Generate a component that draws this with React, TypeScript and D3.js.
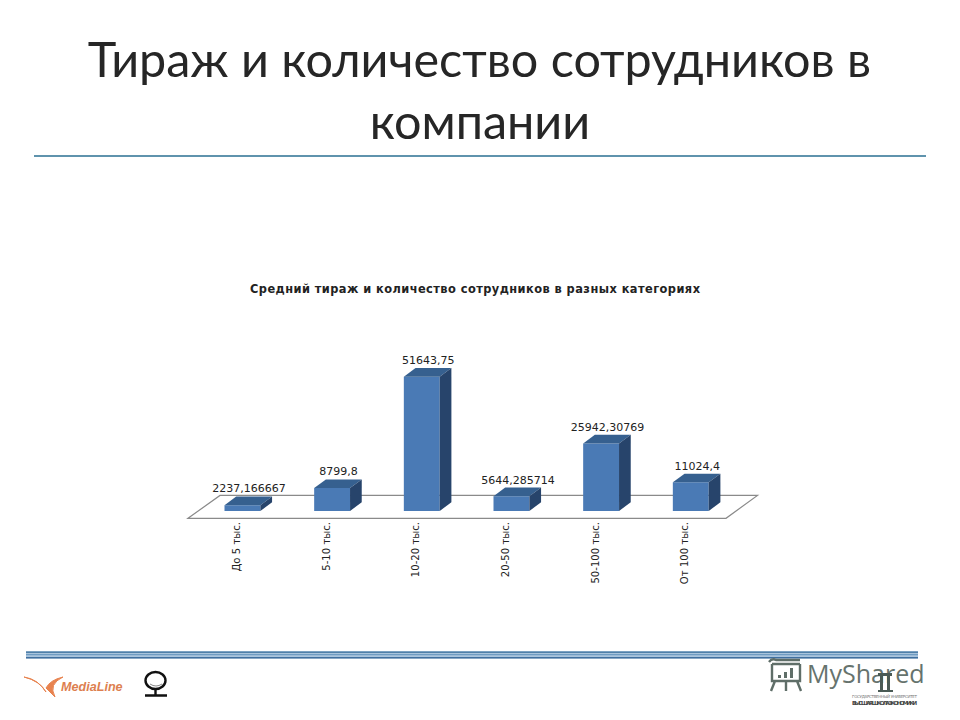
import React from "react";
import * as d3 from "d3";

const categories = ["До 5 тыс.", "5-10 тыс.", "10-20 тыс.", "20-50 тыс.", "50-100 тыс.", "От 100 тыс."];
const values = [2237.166667, 8799.8, 51643.75, 5644.285714, 25942.30769, 11024.4];
const valueLabels = ["2237,166667", "8799,8", "51643,75", "5644,285714", "25942,30769", "11024,4"];

const DX = 11.7;
const DY = 8.7;
const BASE = 511;

const x = d3.scaleBand<string>().domain(categories).range([197.6, 735.6]).paddingInner(0.6).paddingOuter(0.3);
const y = d3.scaleLinear().domain([0, 51643.75]).range([BASE, 376.7]);

const SANS = "'DejaVu Sans', Verdana, sans-serif";

function poly(pts: [number, number][]) {
  return (d3.line()(pts) ?? "") + "Z";
}

export default function App() {
  return (
    <svg width={960} height={720} viewBox="0 0 960 720" style={{ position: "fixed", left: 0, top: 0, background: "#fff" }}>
      <text x={479.5} y={77} textAnchor="middle" fontFamily="Lato, Carlito, sans-serif" fontSize={48.5} fill="#262626">Тираж и количество сотрудников в</text>
      <text x={480} y={139} textAnchor="middle" fontFamily="Lato, Carlito, sans-serif" fontSize={48.5} fill="#262626">компании</text>
      <line x1={34} x2={926} y1={156} y2={156} stroke="#5f93ad" strokeWidth={2} />

      <text x={475} y={293} textAnchor="middle" fontFamily={SANS} fontWeight={700} fontSize={11.4} textLength={450} lengthAdjust="spacing" fill="#222">Средний тираж и количество сотрудников в разных категориях</text>

      <path d={poly([[188, 518.3], [220, 495.4], [757.5, 495.4], [726, 518.3]])} fill="#fff" stroke="#8a8a8a" strokeWidth={1.2} />

      {categories.map((c, i) => {
        const x0 = x(c)!;
        const x1 = x0 + x.bandwidth();
        const top = y(values[i]);
        return (
          <g key={c}>
            <path d={poly([[x0, top], [x1, top], [x1, BASE], [x0, BASE]])} fill="#4a7ab5" />
            <path d={poly([[x0, top], [x0 + DX, top - DY], [x1 + DX, top - DY], [x1, top]])} fill="#36608f" />
            <path d={poly([[x1, top], [x1 + DX, top - DY], [x1 + DX, BASE - DY], [x1, BASE]])} fill="#27446b" />
            <text x={(x0 + x1) / 2 + 6.5} y={top - DY - 4} textAnchor="middle" fontFamily={SANS} fontSize={11} fill="#222">{valueLabels[i]}</text>
            <text transform={`translate(${(x0 + x1) / 2 - 2.5},522) rotate(-90)`} textAnchor="end" fontFamily={SANS} fontSize={10.1} fill="#222">{c}</text>
          </g>
        );
      })}

      <rect x={26} y={651} width={892} height={7} fill="#a9c4dc" />
      <rect x={26} y={651.5} width={892} height={1.5} fill="#4f7fa8" />
      <rect x={26} y={654} width={892} height={1.2} fill="#6f9cc2" />
      <rect x={26} y={657} width={892} height={1.6} fill="#3f6f9f" />

      <path d="M24 677 Q38 679 46 692 Q40 681 24 677Z M63 677 Q50 680 46 688 L55 697 Q48 684 63 677Z" fill="#e8834f" stroke="#e8834f" strokeWidth={1} />
      <text x={61} y={691} fontFamily="'Liberation Sans', Arial, sans-serif" fontWeight={700} fontStyle="italic" fontSize={12.6} fill="#dd7f50">MediaLine</text>

      <ellipse cx={155.5} cy={680.5} rx={10} ry={8.5} fill="none" stroke="#111" strokeWidth={2.4} />
      <path d="M155.5 689V695M145 695.5H167" stroke="#111" strokeWidth={2.4} fill="none" />
      <path d="M150 684Q156 688 162 684" stroke="#888" strokeWidth={1} fill="none" />

      <g fill="none" stroke="#5f6e68" strokeWidth={2.4}>
        <path d="M772 664H800M772 664V681H800V664M775 681L771 691M786 681V691M797 681L801 691" />
        <path d="M769 662Q772 658 776 660H800" />
      </g>
      <g fill="#5f6e68">
        <rect x={778} y={675} width={3} height={3} />
        <rect x={784} y={672} width={3} height={6} />
        <rect x={790} y={668} width={3} height={10} />
      </g>
      <text x={807} y={683} fontFamily="'Open Sans', sans-serif" fontSize={25} fill="#66736d">MyShared</text>
      <g fill="#4a5a55">
        <rect x={880} y={675} width={3} height={15} />
        <rect x={887} y={675} width={3} height={15} />
        <rect x={878} y={673} width={14} height={3} />
        <rect x={878} y={690} width={15} height={2} />
      </g>
      <text x={852} y={698} fontFamily={SANS} fontSize={4} textLength={65} fill="#777">ГОСУДАРСТВЕННЫЙ УНИВЕРСИТЕТ</text>
      <text x={852} y={704.5} fontFamily={SANS} fontWeight={700} fontSize={5.5} textLength={65} fill="#444">ВЫСШАЯ ШКОЛА ЭКОНОМИКИ</text>
    </svg>
  );
}
